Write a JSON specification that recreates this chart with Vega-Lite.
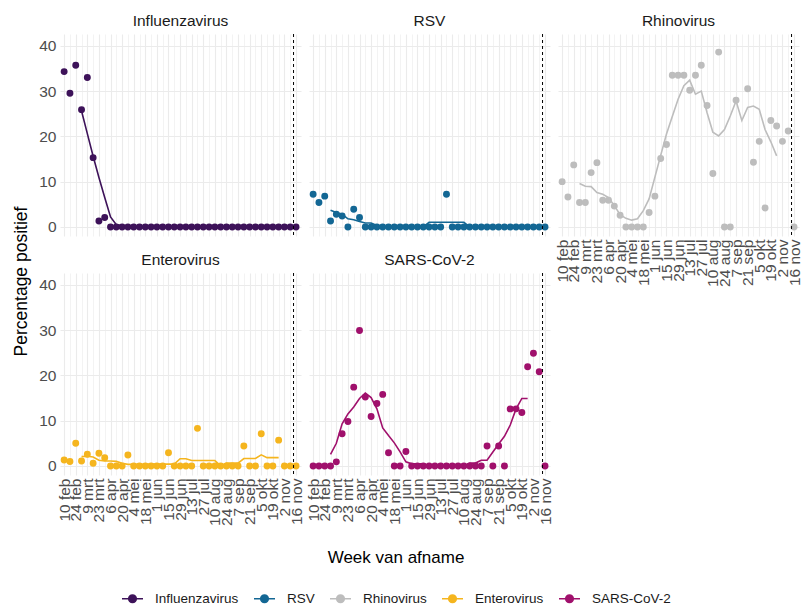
{
 "$schema": "https://vega.github.io/schema/vega-lite/v6.json",
 "background": "white",
 "padding": {"left": 12, "top": 14, "right": 0, "bottom": 2},
 "data": {
  "format": {"parse": {"week": "date:'%Y-%m-%d'"}},
  "values": [
{"virus":"Influenzavirus","week":"2020-02-10","pct":34.3,"trend":null},
{"virus":"Influenzavirus","week":"2020-02-17","pct":29.5,"trend":null},
{"virus":"Influenzavirus","week":"2020-02-24","pct":35.7,"trend":null},
{"virus":"Influenzavirus","week":"2020-03-02","pct":25.9,"trend":25.6},
{"virus":"Influenzavirus","week":"2020-03-09","pct":33.0,"trend":20.6},
{"virus":"Influenzavirus","week":"2020-03-16","pct":15.3,"trend":15.6},
{"virus":"Influenzavirus","week":"2020-03-23","pct":1.3,"trend":10.9},
{"virus":"Influenzavirus","week":"2020-03-30","pct":2.1,"trend":6.5},
{"virus":"Influenzavirus","week":"2020-04-06","pct":0,"trend":2.2},
{"virus":"Influenzavirus","week":"2020-04-13","pct":0,"trend":0.5},
{"virus":"Influenzavirus","week":"2020-04-20","pct":0,"trend":0.3},
{"virus":"Influenzavirus","week":"2020-04-27","pct":0,"trend":0},
{"virus":"Influenzavirus","week":"2020-05-04","pct":0,"trend":0},
{"virus":"Influenzavirus","week":"2020-05-11","pct":0,"trend":0},
{"virus":"Influenzavirus","week":"2020-05-18","pct":0,"trend":0},
{"virus":"Influenzavirus","week":"2020-05-25","pct":0,"trend":0},
{"virus":"Influenzavirus","week":"2020-06-01","pct":0,"trend":0},
{"virus":"Influenzavirus","week":"2020-06-08","pct":0,"trend":0},
{"virus":"Influenzavirus","week":"2020-06-15","pct":0,"trend":0},
{"virus":"Influenzavirus","week":"2020-06-22","pct":0,"trend":0},
{"virus":"Influenzavirus","week":"2020-06-29","pct":0,"trend":0},
{"virus":"Influenzavirus","week":"2020-07-06","pct":0,"trend":0},
{"virus":"Influenzavirus","week":"2020-07-13","pct":0,"trend":0},
{"virus":"Influenzavirus","week":"2020-07-20","pct":0,"trend":0},
{"virus":"Influenzavirus","week":"2020-07-27","pct":0,"trend":0},
{"virus":"Influenzavirus","week":"2020-08-03","pct":0,"trend":0},
{"virus":"Influenzavirus","week":"2020-08-10","pct":0,"trend":0},
{"virus":"Influenzavirus","week":"2020-08-17","pct":0,"trend":0},
{"virus":"Influenzavirus","week":"2020-08-24","pct":0,"trend":0},
{"virus":"Influenzavirus","week":"2020-08-31","pct":0,"trend":0},
{"virus":"Influenzavirus","week":"2020-09-07","pct":0,"trend":0},
{"virus":"Influenzavirus","week":"2020-09-14","pct":0,"trend":0},
{"virus":"Influenzavirus","week":"2020-09-21","pct":0,"trend":0},
{"virus":"Influenzavirus","week":"2020-09-28","pct":0,"trend":0},
{"virus":"Influenzavirus","week":"2020-10-05","pct":0,"trend":0},
{"virus":"Influenzavirus","week":"2020-10-12","pct":0,"trend":0},
{"virus":"Influenzavirus","week":"2020-10-19","pct":0,"trend":0},
{"virus":"Influenzavirus","week":"2020-10-26","pct":0,"trend":0},
{"virus":"Influenzavirus","week":"2020-11-02","pct":0,"trend":null},
{"virus":"Influenzavirus","week":"2020-11-09","pct":0,"trend":null},
{"virus":"Influenzavirus","week":"2020-11-16","pct":0,"trend":null},
{"virus":"RSV","week":"2020-02-10","pct":7.2,"trend":null},
{"virus":"RSV","week":"2020-02-17","pct":5.4,"trend":null},
{"virus":"RSV","week":"2020-02-24","pct":6.8,"trend":null},
{"virus":"RSV","week":"2020-03-02","pct":1.3,"trend":3.7},
{"virus":"RSV","week":"2020-03-09","pct":2.8,"trend":3.2},
{"virus":"RSV","week":"2020-03-16","pct":2.4,"trend":2.8},
{"virus":"RSV","week":"2020-03-23","pct":0,"trend":1.8},
{"virus":"RSV","week":"2020-03-30","pct":3.9,"trend":1.6},
{"virus":"RSV","week":"2020-04-06","pct":2.1,"trend":1.2},
{"virus":"RSV","week":"2020-04-13","pct":0,"trend":0.86},
{"virus":"RSV","week":"2020-04-20","pct":0,"trend":0.86},
{"virus":"RSV","week":"2020-04-27","pct":0,"trend":0.3},
{"virus":"RSV","week":"2020-05-04","pct":0,"trend":0},
{"virus":"RSV","week":"2020-05-11","pct":0,"trend":0},
{"virus":"RSV","week":"2020-05-18","pct":0,"trend":0},
{"virus":"RSV","week":"2020-05-25","pct":0,"trend":0},
{"virus":"RSV","week":"2020-06-01","pct":0,"trend":0},
{"virus":"RSV","week":"2020-06-08","pct":0,"trend":0},
{"virus":"RSV","week":"2020-06-15","pct":0,"trend":0},
{"virus":"RSV","week":"2020-06-22","pct":0,"trend":0},
{"virus":"RSV","week":"2020-06-29","pct":0,"trend":1.03},
{"virus":"RSV","week":"2020-07-06","pct":0,"trend":1.03},
{"virus":"RSV","week":"2020-07-13","pct":0,"trend":1.03},
{"virus":"RSV","week":"2020-07-20","pct":7.2,"trend":1.03},
{"virus":"RSV","week":"2020-07-27","pct":0,"trend":1.03},
{"virus":"RSV","week":"2020-08-03","pct":0,"trend":1.03},
{"virus":"RSV","week":"2020-08-10","pct":0,"trend":1.03},
{"virus":"RSV","week":"2020-08-17","pct":0,"trend":0},
{"virus":"RSV","week":"2020-08-24","pct":0,"trend":0},
{"virus":"RSV","week":"2020-08-31","pct":0,"trend":0},
{"virus":"RSV","week":"2020-09-07","pct":0,"trend":0},
{"virus":"RSV","week":"2020-09-14","pct":0,"trend":0},
{"virus":"RSV","week":"2020-09-21","pct":0,"trend":0},
{"virus":"RSV","week":"2020-09-28","pct":0,"trend":0},
{"virus":"RSV","week":"2020-10-05","pct":0,"trend":0},
{"virus":"RSV","week":"2020-10-12","pct":0,"trend":0},
{"virus":"RSV","week":"2020-10-19","pct":0,"trend":0},
{"virus":"RSV","week":"2020-10-26","pct":0,"trend":0},
{"virus":"RSV","week":"2020-11-02","pct":0,"trend":null},
{"virus":"RSV","week":"2020-11-09","pct":0,"trend":null},
{"virus":"RSV","week":"2020-11-16","pct":0,"trend":null},
{"virus":"Rhinovirus","week":"2020-02-10","pct":10.0,"trend":null},
{"virus":"Rhinovirus","week":"2020-02-17","pct":6.6,"trend":null},
{"virus":"Rhinovirus","week":"2020-02-24","pct":13.7,"trend":null},
{"virus":"Rhinovirus","week":"2020-03-02","pct":5.4,"trend":9.6},
{"virus":"Rhinovirus","week":"2020-03-09","pct":5.4,"trend":9.0},
{"virus":"Rhinovirus","week":"2020-03-16","pct":12.0,"trend":8.9},
{"virus":"Rhinovirus","week":"2020-03-23","pct":14.2,"trend":7.6},
{"virus":"Rhinovirus","week":"2020-03-30","pct":5.9,"trend":7.2},
{"virus":"Rhinovirus","week":"2020-04-06","pct":5.9,"trend":6.5},
{"virus":"Rhinovirus","week":"2020-04-13","pct":4.6,"trend":4.7},
{"virus":"Rhinovirus","week":"2020-04-20","pct":2.6,"trend":2.7},
{"virus":"Rhinovirus","week":"2020-04-27","pct":0,"trend":1.9},
{"virus":"Rhinovirus","week":"2020-05-04","pct":0,"trend":1.5},
{"virus":"Rhinovirus","week":"2020-05-11","pct":0,"trend":1.8},
{"virus":"Rhinovirus","week":"2020-05-18","pct":0,"trend":3.6},
{"virus":"Rhinovirus","week":"2020-05-25","pct":3.2,"trend":6.2},
{"virus":"Rhinovirus","week":"2020-06-01","pct":6.8,"trend":11.0},
{"virus":"Rhinovirus","week":"2020-06-08","pct":15.1,"trend":15.8},
{"virus":"Rhinovirus","week":"2020-06-15","pct":18.2,"trend":20.5},
{"virus":"Rhinovirus","week":"2020-06-22","pct":33.5,"trend":24.4},
{"virus":"Rhinovirus","week":"2020-06-29","pct":33.5,"trend":28.2},
{"virus":"Rhinovirus","week":"2020-07-06","pct":33.5,"trend":31.2},
{"virus":"Rhinovirus","week":"2020-07-13","pct":30.2,"trend":32.4},
{"virus":"Rhinovirus","week":"2020-07-20","pct":33.5,"trend":29.3},
{"virus":"Rhinovirus","week":"2020-07-27","pct":35.7,"trend":30.0},
{"virus":"Rhinovirus","week":"2020-08-03","pct":26.8,"trend":25.2},
{"virus":"Rhinovirus","week":"2020-08-10","pct":11.8,"trend":20.9},
{"virus":"Rhinovirus","week":"2020-08-17","pct":38.6,"trend":20.1},
{"virus":"Rhinovirus","week":"2020-08-24","pct":0,"trend":21.5},
{"virus":"Rhinovirus","week":"2020-08-31","pct":0,"trend":24.5},
{"virus":"Rhinovirus","week":"2020-09-07","pct":28.0,"trend":27.8},
{"virus":"Rhinovirus","week":"2020-09-14","pct":null,"trend":23.5},
{"virus":"Rhinovirus","week":"2020-09-21","pct":30.5,"trend":26.4},
{"virus":"Rhinovirus","week":"2020-09-28","pct":14.3,"trend":26.7},
{"virus":"Rhinovirus","week":"2020-10-05","pct":18.9,"trend":26.0},
{"virus":"Rhinovirus","week":"2020-10-12","pct":4.2,"trend":21.5},
{"virus":"Rhinovirus","week":"2020-10-19","pct":23.5,"trend":18.8},
{"virus":"Rhinovirus","week":"2020-10-26","pct":22.3,"trend":15.7},
{"virus":"Rhinovirus","week":"2020-11-02","pct":18.9,"trend":null},
{"virus":"Rhinovirus","week":"2020-11-09","pct":21.2,"trend":null},
{"virus":"Rhinovirus","week":"2020-11-16","pct":0,"trend":null},
{"virus":"Enterovirus","week":"2020-02-10","pct":1.3,"trend":null},
{"virus":"Enterovirus","week":"2020-02-17","pct":1.0,"trend":null},
{"virus":"Enterovirus","week":"2020-02-24","pct":5.0,"trend":null},
{"virus":"Enterovirus","week":"2020-03-02","pct":1.1,"trend":2.06},
{"virus":"Enterovirus","week":"2020-03-09","pct":2.6,"trend":2.13},
{"virus":"Enterovirus","week":"2020-03-16","pct":0.6,"trend":1.99},
{"virus":"Enterovirus","week":"2020-03-23","pct":2.8,"trend":1.27},
{"virus":"Enterovirus","week":"2020-03-30","pct":1.8,"trend":1.11},
{"virus":"Enterovirus","week":"2020-04-06","pct":0,"trend":1.09},
{"virus":"Enterovirus","week":"2020-04-13","pct":0,"trend":1.0},
{"virus":"Enterovirus","week":"2020-04-20","pct":0,"trend":0.6},
{"virus":"Enterovirus","week":"2020-04-27","pct":2.4,"trend":0.34},
{"virus":"Enterovirus","week":"2020-05-04","pct":0,"trend":0.34},
{"virus":"Enterovirus","week":"2020-05-11","pct":0,"trend":0.34},
{"virus":"Enterovirus","week":"2020-05-18","pct":0,"trend":0.34},
{"virus":"Enterovirus","week":"2020-05-25","pct":0,"trend":0.41},
{"virus":"Enterovirus","week":"2020-06-01","pct":0,"trend":0.41},
{"virus":"Enterovirus","week":"2020-06-08","pct":0,"trend":0.41},
{"virus":"Enterovirus","week":"2020-06-15","pct":2.9,"trend":0.41},
{"virus":"Enterovirus","week":"2020-06-22","pct":0,"trend":0.41},
{"virus":"Enterovirus","week":"2020-06-29","pct":0,"trend":1.6},
{"virus":"Enterovirus","week":"2020-07-06","pct":0,"trend":1.6},
{"virus":"Enterovirus","week":"2020-07-13","pct":0,"trend":1.19},
{"virus":"Enterovirus","week":"2020-07-20","pct":8.3,"trend":1.19},
{"virus":"Enterovirus","week":"2020-07-27","pct":0,"trend":1.19},
{"virus":"Enterovirus","week":"2020-08-03","pct":0,"trend":1.19},
{"virus":"Enterovirus","week":"2020-08-10","pct":0,"trend":1.19},
{"virus":"Enterovirus","week":"2020-08-17","pct":0,"trend":0},
{"virus":"Enterovirus","week":"2020-08-24","pct":0,"trend":0.63},
{"virus":"Enterovirus","week":"2020-08-31","pct":0,"trend":0.63},
{"virus":"Enterovirus","week":"2020-09-07","pct":0,"trend":0.63},
{"virus":"Enterovirus","week":"2020-09-14","pct":4.4,"trend":1.64},
{"virus":"Enterovirus","week":"2020-09-21","pct":0,"trend":1.64},
{"virus":"Enterovirus","week":"2020-09-28","pct":0,"trend":1.64},
{"virus":"Enterovirus","week":"2020-10-05","pct":7.1,"trend":2.46},
{"virus":"Enterovirus","week":"2020-10-12","pct":0,"trend":1.83},
{"virus":"Enterovirus","week":"2020-10-19","pct":0,"trend":1.83},
{"virus":"Enterovirus","week":"2020-10-26","pct":5.7,"trend":1.83},
{"virus":"Enterovirus","week":"2020-11-02","pct":0,"trend":null},
{"virus":"Enterovirus","week":"2020-11-09","pct":0,"trend":null},
{"virus":"Enterovirus","week":"2020-11-16","pct":0,"trend":null},
{"virus":"SARS-CoV-2","week":"2020-02-10","pct":0,"trend":null},
{"virus":"SARS-CoV-2","week":"2020-02-17","pct":0,"trend":null},
{"virus":"SARS-CoV-2","week":"2020-02-24","pct":0,"trend":null},
{"virus":"SARS-CoV-2","week":"2020-03-02","pct":0,"trend":2.54},
{"virus":"SARS-CoV-2","week":"2020-03-09","pct":0.9,"trend":5.0},
{"virus":"SARS-CoV-2","week":"2020-03-16","pct":7.1,"trend":9.3},
{"virus":"SARS-CoV-2","week":"2020-03-23","pct":9.8,"trend":11.5},
{"virus":"SARS-CoV-2","week":"2020-03-30","pct":17.4,"trend":13.0},
{"virus":"SARS-CoV-2","week":"2020-04-06","pct":29.9,"trend":14.9},
{"virus":"SARS-CoV-2","week":"2020-04-13","pct":15.2,"trend":16.1},
{"virus":"SARS-CoV-2","week":"2020-04-20","pct":10.9,"trend":15.1},
{"virus":"SARS-CoV-2","week":"2020-04-27","pct":13.8,"trend":12.6},
{"virus":"SARS-CoV-2","week":"2020-05-04","pct":15.8,"trend":8.4},
{"virus":"SARS-CoV-2","week":"2020-05-11","pct":2.9,"trend":6.7},
{"virus":"SARS-CoV-2","week":"2020-05-18","pct":0,"trend":5.1},
{"virus":"SARS-CoV-2","week":"2020-05-25","pct":0,"trend":3.1},
{"virus":"SARS-CoV-2","week":"2020-06-01","pct":3.2,"trend":0.9},
{"virus":"SARS-CoV-2","week":"2020-06-08","pct":0,"trend":0.46},
{"virus":"SARS-CoV-2","week":"2020-06-15","pct":0,"trend":0.46},
{"virus":"SARS-CoV-2","week":"2020-06-22","pct":0,"trend":0.46},
{"virus":"SARS-CoV-2","week":"2020-06-29","pct":0,"trend":0},
{"virus":"SARS-CoV-2","week":"2020-07-06","pct":0,"trend":0},
{"virus":"SARS-CoV-2","week":"2020-07-13","pct":0,"trend":0},
{"virus":"SARS-CoV-2","week":"2020-07-20","pct":0,"trend":0},
{"virus":"SARS-CoV-2","week":"2020-07-27","pct":0,"trend":0},
{"virus":"SARS-CoV-2","week":"2020-08-03","pct":0,"trend":0},
{"virus":"SARS-CoV-2","week":"2020-08-10","pct":0,"trend":0},
{"virus":"SARS-CoV-2","week":"2020-08-17","pct":0,"trend":0.63},
{"virus":"SARS-CoV-2","week":"2020-08-24","pct":0,"trend":0.63},
{"virus":"SARS-CoV-2","week":"2020-08-31","pct":0,"trend":1.26},
{"virus":"SARS-CoV-2","week":"2020-09-07","pct":4.4,"trend":1.26},
{"virus":"SARS-CoV-2","week":"2020-09-14","pct":0,"trend":3.06},
{"virus":"SARS-CoV-2","week":"2020-09-21","pct":4.4,"trend":4.86},
{"virus":"SARS-CoV-2","week":"2020-09-28","pct":0,"trend":6.54},
{"virus":"SARS-CoV-2","week":"2020-10-05","pct":12.6,"trend":9.04},
{"virus":"SARS-CoV-2","week":"2020-10-12","pct":12.6,"trend":12.6},
{"virus":"SARS-CoV-2","week":"2020-10-19","pct":11.8,"trend":14.9},
{"virus":"SARS-CoV-2","week":"2020-10-26","pct":21.9,"trend":14.9},
{"virus":"SARS-CoV-2","week":"2020-11-02","pct":24.9,"trend":null},
{"virus":"SARS-CoV-2","week":"2020-11-09","pct":20.8,"trend":null},
{"virus":"SARS-CoV-2","week":"2020-11-16","pct":0,"trend":null}
  ]
 },
 "columns": 3,
 "spacing": {"row": 37, "column": 8},
 "bounds": "flush",
 "resolve": {"scale": {"x": "independent", "y": "independent", "color": "shared"}, "axis": {"x": "independent", "y": "independent"}},
 "concat": [
  {
   "title": "Influenzavirus",
   "transform": [{"filter": {"field": "virus", "equal": "Influenzavirus"}}],
   "width": 241, "height": 202,
   "encoding": {"x": {"field": "week", "type": "temporal", "scale": {"domain": [{"year": 2020, "month": 2, "date": 5}, {"year": 2020, "month": 11, "date": 22}]},
     "axis": {"title": null, "labels": false, "labelExpr": "round((time(datum.value) - time(datetime(2020,1,10))) / 604800000) % 2 == 0 ? date(datum.value) + ' ' + ['jan','feb','mrt','apr','mei','jun','jul','aug','sep','okt','nov','dec'][month(datum.value)] : ''",
      "gridWidth": {"condition": {"test": "round((time(datum.value) - time(datetime(2020,1,10))) / 604800000) % 2 == 0", "value": 1.1}, "value": 0.6},
      "values": [{"year":2020,"month":2,"date":10},{"year":2020,"month":2,"date":17},{"year":2020,"month":2,"date":24},{"year":2020,"month":3,"date":2},{"year":2020,"month":3,"date":9},{"year":2020,"month":3,"date":16},{"year":2020,"month":3,"date":23},{"year":2020,"month":3,"date":30},{"year":2020,"month":4,"date":6},{"year":2020,"month":4,"date":13},{"year":2020,"month":4,"date":20},{"year":2020,"month":4,"date":27},{"year":2020,"month":5,"date":4},{"year":2020,"month":5,"date":11},{"year":2020,"month":5,"date":18},{"year":2020,"month":5,"date":25},{"year":2020,"month":6,"date":1},{"year":2020,"month":6,"date":8},{"year":2020,"month":6,"date":15},{"year":2020,"month":6,"date":22},{"year":2020,"month":6,"date":29},{"year":2020,"month":7,"date":6},{"year":2020,"month":7,"date":13},{"year":2020,"month":7,"date":20},{"year":2020,"month":7,"date":27},{"year":2020,"month":8,"date":3},{"year":2020,"month":8,"date":10},{"year":2020,"month":8,"date":17},{"year":2020,"month":8,"date":24},{"year":2020,"month":8,"date":31},{"year":2020,"month":9,"date":7},{"year":2020,"month":9,"date":14},{"year":2020,"month":9,"date":21},{"year":2020,"month":9,"date":28},{"year":2020,"month":10,"date":5},{"year":2020,"month":10,"date":12},{"year":2020,"month":10,"date":19},{"year":2020,"month":10,"date":26},{"year":2020,"month":11,"date":2},{"year":2020,"month":11,"date":9},{"year":2020,"month":11,"date":16}]}}},
   "layer": [
    {"mark": {"type": "line", "strokeWidth": 1.6},
     "encoding": {
      "y": {"field": "trend", "type": "quantitative", "scale": {"domain": [-2, 42.6], "nice": false, "zero": false},
       "axis": {"title": "Percentage positief", "titleY": 247, "titleFontSize": 17.5, "titleFontWeight": "normal", "titleColor": "black", "titlePadding": 8, "labels": true, "values": [0, 5, 10, 15, 20, 25, 30, 35, 40], "labelExpr": "datum.value % 10 == 0 ? datum.label : ''", "gridWidth": {"condition": {"test": "datum.value % 10 == 0", "value": 1.1}, "value": 0.6}}},
      "color": {"field": "virus", "type": "nominal",
       "scale": {"domain": ["Influenzavirus", "RSV", "Rhinovirus", "Enterovirus", "SARS-CoV-2"], "range": ["#3d1259", "#136794", "#bdbdbd", "#f5b51e", "#a0106c"]},
       "legend": {"orient": "none", "legendX": 61, "legendY": 516, "direction": "horizontal", "title": "Week van afname", "titleOrient": "top", "titleAnchor": "middle", "titleFontSize": 17, "titleFontWeight": "normal", "titleColor": "black", "titleFont": "Liberation Sans", "titlePadding": 20, "labelFontSize": 13.5, "labelColor": "#1a1a1a", "labelFont": "Liberation Sans", "symbolType": "M-1,0H1M-0.36,0A0.36,0.36,0,1,1,0.36,0A0.36,0.36,0,1,1,-0.36,0Z", "symbolSize": 441, "symbolStrokeWidth": 1.6, "columnPadding": 11, "labelOffset": 11}}}},
    {"mark": {"type": "point", "filled": true, "size": 48, "opacity": 1},
     "encoding": {"y": {"field": "pct", "type": "quantitative"}, "color": {"field": "virus", "type": "nominal", "scale": {"domain": ["Influenzavirus", "RSV", "Rhinovirus", "Enterovirus", "SARS-CoV-2"], "range": ["#3d1259", "#136794", "#bdbdbd", "#f5b51e", "#a0106c"]}}}},
    {"transform": [{"filter": {"field": "week", "timeUnit": "yearmonthdate", "equal": {"year": 2020, "month": 2, "date": 10}}}],
     "mark": {"type": "rule", "strokeDash": [3, 3], "color": "black", "strokeWidth": 1},
     "encoding": {"x": {"datum": {"year": 2020, "month": 11, "date": 13}, "type": "temporal"}}}
   ]
  },
  {
   "title": "RSV",
   "transform": [{"filter": {"field": "virus", "equal": "RSV"}}],
   "width": 241, "height": 202,
   "encoding": {"x": {"field": "week", "type": "temporal", "scale": {"domain": [{"year": 2020, "month": 2, "date": 5}, {"year": 2020, "month": 11, "date": 22}]},
     "axis": {"title": null, "labels": false, "labelExpr": "round((time(datum.value) - time(datetime(2020,1,10))) / 604800000) % 2 == 0 ? date(datum.value) + ' ' + ['jan','feb','mrt','apr','mei','jun','jul','aug','sep','okt','nov','dec'][month(datum.value)] : ''",
      "gridWidth": {"condition": {"test": "round((time(datum.value) - time(datetime(2020,1,10))) / 604800000) % 2 == 0", "value": 1.1}, "value": 0.6},
      "values": [{"year":2020,"month":2,"date":10},{"year":2020,"month":2,"date":17},{"year":2020,"month":2,"date":24},{"year":2020,"month":3,"date":2},{"year":2020,"month":3,"date":9},{"year":2020,"month":3,"date":16},{"year":2020,"month":3,"date":23},{"year":2020,"month":3,"date":30},{"year":2020,"month":4,"date":6},{"year":2020,"month":4,"date":13},{"year":2020,"month":4,"date":20},{"year":2020,"month":4,"date":27},{"year":2020,"month":5,"date":4},{"year":2020,"month":5,"date":11},{"year":2020,"month":5,"date":18},{"year":2020,"month":5,"date":25},{"year":2020,"month":6,"date":1},{"year":2020,"month":6,"date":8},{"year":2020,"month":6,"date":15},{"year":2020,"month":6,"date":22},{"year":2020,"month":6,"date":29},{"year":2020,"month":7,"date":6},{"year":2020,"month":7,"date":13},{"year":2020,"month":7,"date":20},{"year":2020,"month":7,"date":27},{"year":2020,"month":8,"date":3},{"year":2020,"month":8,"date":10},{"year":2020,"month":8,"date":17},{"year":2020,"month":8,"date":24},{"year":2020,"month":8,"date":31},{"year":2020,"month":9,"date":7},{"year":2020,"month":9,"date":14},{"year":2020,"month":9,"date":21},{"year":2020,"month":9,"date":28},{"year":2020,"month":10,"date":5},{"year":2020,"month":10,"date":12},{"year":2020,"month":10,"date":19},{"year":2020,"month":10,"date":26},{"year":2020,"month":11,"date":2},{"year":2020,"month":11,"date":9},{"year":2020,"month":11,"date":16}]}}},
   "layer": [
    {"mark": {"type": "line", "strokeWidth": 1.6},
     "encoding": {
      "y": {"field": "trend", "type": "quantitative", "scale": {"domain": [-2, 42.6], "nice": false, "zero": false},
       "axis": {"title": null, "labels": false, "values": [0, 5, 10, 15, 20, 25, 30, 35, 40], "gridWidth": {"condition": {"test": "datum.value % 10 == 0", "value": 1.1}, "value": 0.6}}},
      "color": {"field": "virus", "type": "nominal", "scale": {"domain": ["Influenzavirus", "RSV", "Rhinovirus", "Enterovirus", "SARS-CoV-2"], "range": ["#3d1259", "#136794", "#bdbdbd", "#f5b51e", "#a0106c"]}}}},
    {"mark": {"type": "point", "filled": true, "size": 48, "opacity": 1},
     "encoding": {"y": {"field": "pct", "type": "quantitative"}, "color": {"field": "virus", "type": "nominal", "scale": {"domain": ["Influenzavirus", "RSV", "Rhinovirus", "Enterovirus", "SARS-CoV-2"], "range": ["#3d1259", "#136794", "#bdbdbd", "#f5b51e", "#a0106c"]}}}},
    {"transform": [{"filter": {"field": "week", "timeUnit": "yearmonthdate", "equal": {"year": 2020, "month": 2, "date": 10}}}],
     "mark": {"type": "rule", "strokeDash": [3, 3], "color": "black", "strokeWidth": 1},
     "encoding": {"x": {"datum": {"year": 2020, "month": 11, "date": 13}, "type": "temporal"}}}
   ]
  },
  {
   "title": "Rhinovirus",
   "transform": [{"filter": {"field": "virus", "equal": "Rhinovirus"}}],
   "width": 241, "height": 202,
   "encoding": {"x": {"field": "week", "type": "temporal", "scale": {"domain": [{"year": 2020, "month": 2, "date": 5}, {"year": 2020, "month": 11, "date": 22}]},
     "axis": {"title": null, "labels": true, "labelExpr": "round((time(datum.value) - time(datetime(2020,1,10))) / 604800000) % 2 == 0 ? date(datum.value) + ' ' + ['jan','feb','mrt','apr','mei','jun','jul','aug','sep','okt','nov','dec'][month(datum.value)] : ''",
      "gridWidth": {"condition": {"test": "round((time(datum.value) - time(datetime(2020,1,10))) / 604800000) % 2 == 0", "value": 1.1}, "value": 0.6},
      "values": [{"year":2020,"month":2,"date":10},{"year":2020,"month":2,"date":17},{"year":2020,"month":2,"date":24},{"year":2020,"month":3,"date":2},{"year":2020,"month":3,"date":9},{"year":2020,"month":3,"date":16},{"year":2020,"month":3,"date":23},{"year":2020,"month":3,"date":30},{"year":2020,"month":4,"date":6},{"year":2020,"month":4,"date":13},{"year":2020,"month":4,"date":20},{"year":2020,"month":4,"date":27},{"year":2020,"month":5,"date":4},{"year":2020,"month":5,"date":11},{"year":2020,"month":5,"date":18},{"year":2020,"month":5,"date":25},{"year":2020,"month":6,"date":1},{"year":2020,"month":6,"date":8},{"year":2020,"month":6,"date":15},{"year":2020,"month":6,"date":22},{"year":2020,"month":6,"date":29},{"year":2020,"month":7,"date":6},{"year":2020,"month":7,"date":13},{"year":2020,"month":7,"date":20},{"year":2020,"month":7,"date":27},{"year":2020,"month":8,"date":3},{"year":2020,"month":8,"date":10},{"year":2020,"month":8,"date":17},{"year":2020,"month":8,"date":24},{"year":2020,"month":8,"date":31},{"year":2020,"month":9,"date":7},{"year":2020,"month":9,"date":14},{"year":2020,"month":9,"date":21},{"year":2020,"month":9,"date":28},{"year":2020,"month":10,"date":5},{"year":2020,"month":10,"date":12},{"year":2020,"month":10,"date":19},{"year":2020,"month":10,"date":26},{"year":2020,"month":11,"date":2},{"year":2020,"month":11,"date":9},{"year":2020,"month":11,"date":16}]}}},
   "layer": [
    {"mark": {"type": "line", "strokeWidth": 1.6},
     "encoding": {
      "y": {"field": "trend", "type": "quantitative", "scale": {"domain": [-2, 42.6], "nice": false, "zero": false},
       "axis": {"title": null, "labels": false, "values": [0, 5, 10, 15, 20, 25, 30, 35, 40], "gridWidth": {"condition": {"test": "datum.value % 10 == 0", "value": 1.1}, "value": 0.6}}},
      "color": {"field": "virus", "type": "nominal", "scale": {"domain": ["Influenzavirus", "RSV", "Rhinovirus", "Enterovirus", "SARS-CoV-2"], "range": ["#3d1259", "#136794", "#bdbdbd", "#f5b51e", "#a0106c"]}}}},
    {"mark": {"type": "point", "filled": true, "size": 48, "opacity": 1},
     "encoding": {"y": {"field": "pct", "type": "quantitative"}, "color": {"field": "virus", "type": "nominal", "scale": {"domain": ["Influenzavirus", "RSV", "Rhinovirus", "Enterovirus", "SARS-CoV-2"], "range": ["#3d1259", "#136794", "#bdbdbd", "#f5b51e", "#a0106c"]}}}},
    {"transform": [{"filter": {"field": "week", "timeUnit": "yearmonthdate", "equal": {"year": 2020, "month": 2, "date": 10}}}],
     "mark": {"type": "rule", "strokeDash": [3, 3], "color": "black", "strokeWidth": 1},
     "encoding": {"x": {"datum": {"year": 2020, "month": 11, "date": 13}, "type": "temporal"}}}
   ]
  },
  {
   "title": "Enterovirus",
   "transform": [{"filter": {"field": "virus", "equal": "Enterovirus"}}],
   "width": 241, "height": 202,
   "encoding": {"x": {"field": "week", "type": "temporal", "scale": {"domain": [{"year": 2020, "month": 2, "date": 5}, {"year": 2020, "month": 11, "date": 22}]},
     "axis": {"title": null, "labels": true, "labelExpr": "round((time(datum.value) - time(datetime(2020,1,10))) / 604800000) % 2 == 0 ? date(datum.value) + ' ' + ['jan','feb','mrt','apr','mei','jun','jul','aug','sep','okt','nov','dec'][month(datum.value)] : ''",
      "gridWidth": {"condition": {"test": "round((time(datum.value) - time(datetime(2020,1,10))) / 604800000) % 2 == 0", "value": 1.1}, "value": 0.6},
      "values": [{"year":2020,"month":2,"date":10},{"year":2020,"month":2,"date":17},{"year":2020,"month":2,"date":24},{"year":2020,"month":3,"date":2},{"year":2020,"month":3,"date":9},{"year":2020,"month":3,"date":16},{"year":2020,"month":3,"date":23},{"year":2020,"month":3,"date":30},{"year":2020,"month":4,"date":6},{"year":2020,"month":4,"date":13},{"year":2020,"month":4,"date":20},{"year":2020,"month":4,"date":27},{"year":2020,"month":5,"date":4},{"year":2020,"month":5,"date":11},{"year":2020,"month":5,"date":18},{"year":2020,"month":5,"date":25},{"year":2020,"month":6,"date":1},{"year":2020,"month":6,"date":8},{"year":2020,"month":6,"date":15},{"year":2020,"month":6,"date":22},{"year":2020,"month":6,"date":29},{"year":2020,"month":7,"date":6},{"year":2020,"month":7,"date":13},{"year":2020,"month":7,"date":20},{"year":2020,"month":7,"date":27},{"year":2020,"month":8,"date":3},{"year":2020,"month":8,"date":10},{"year":2020,"month":8,"date":17},{"year":2020,"month":8,"date":24},{"year":2020,"month":8,"date":31},{"year":2020,"month":9,"date":7},{"year":2020,"month":9,"date":14},{"year":2020,"month":9,"date":21},{"year":2020,"month":9,"date":28},{"year":2020,"month":10,"date":5},{"year":2020,"month":10,"date":12},{"year":2020,"month":10,"date":19},{"year":2020,"month":10,"date":26},{"year":2020,"month":11,"date":2},{"year":2020,"month":11,"date":9},{"year":2020,"month":11,"date":16}]}}},
   "layer": [
    {"mark": {"type": "line", "strokeWidth": 1.6},
     "encoding": {
      "y": {"field": "trend", "type": "quantitative", "scale": {"domain": [-2, 42.6], "nice": false, "zero": false},
       "axis": {"title": null, "labels": true, "values": [0, 5, 10, 15, 20, 25, 30, 35, 40], "labelExpr": "datum.value % 10 == 0 ? datum.label : ''", "gridWidth": {"condition": {"test": "datum.value % 10 == 0", "value": 1.1}, "value": 0.6}}},
      "color": {"field": "virus", "type": "nominal", "scale": {"domain": ["Influenzavirus", "RSV", "Rhinovirus", "Enterovirus", "SARS-CoV-2"], "range": ["#3d1259", "#136794", "#bdbdbd", "#f5b51e", "#a0106c"]}}}},
    {"mark": {"type": "point", "filled": true, "size": 48, "opacity": 1},
     "encoding": {"y": {"field": "pct", "type": "quantitative"}, "color": {"field": "virus", "type": "nominal", "scale": {"domain": ["Influenzavirus", "RSV", "Rhinovirus", "Enterovirus", "SARS-CoV-2"], "range": ["#3d1259", "#136794", "#bdbdbd", "#f5b51e", "#a0106c"]}}}},
    {"transform": [{"filter": {"field": "week", "timeUnit": "yearmonthdate", "equal": {"year": 2020, "month": 2, "date": 10}}}],
     "mark": {"type": "rule", "strokeDash": [3, 3], "color": "black", "strokeWidth": 1},
     "encoding": {"x": {"datum": {"year": 2020, "month": 11, "date": 13}, "type": "temporal"}}}
   ]
  },
  {
   "title": "SARS-CoV-2",
   "transform": [{"filter": {"field": "virus", "equal": "SARS-CoV-2"}}],
   "width": 241, "height": 202,
   "encoding": {"x": {"field": "week", "type": "temporal", "scale": {"domain": [{"year": 2020, "month": 2, "date": 5}, {"year": 2020, "month": 11, "date": 22}]},
     "axis": {"title": null, "labels": true, "labelExpr": "round((time(datum.value) - time(datetime(2020,1,10))) / 604800000) % 2 == 0 ? date(datum.value) + ' ' + ['jan','feb','mrt','apr','mei','jun','jul','aug','sep','okt','nov','dec'][month(datum.value)] : ''",
      "gridWidth": {"condition": {"test": "round((time(datum.value) - time(datetime(2020,1,10))) / 604800000) % 2 == 0", "value": 1.1}, "value": 0.6},
      "values": [{"year":2020,"month":2,"date":10},{"year":2020,"month":2,"date":17},{"year":2020,"month":2,"date":24},{"year":2020,"month":3,"date":2},{"year":2020,"month":3,"date":9},{"year":2020,"month":3,"date":16},{"year":2020,"month":3,"date":23},{"year":2020,"month":3,"date":30},{"year":2020,"month":4,"date":6},{"year":2020,"month":4,"date":13},{"year":2020,"month":4,"date":20},{"year":2020,"month":4,"date":27},{"year":2020,"month":5,"date":4},{"year":2020,"month":5,"date":11},{"year":2020,"month":5,"date":18},{"year":2020,"month":5,"date":25},{"year":2020,"month":6,"date":1},{"year":2020,"month":6,"date":8},{"year":2020,"month":6,"date":15},{"year":2020,"month":6,"date":22},{"year":2020,"month":6,"date":29},{"year":2020,"month":7,"date":6},{"year":2020,"month":7,"date":13},{"year":2020,"month":7,"date":20},{"year":2020,"month":7,"date":27},{"year":2020,"month":8,"date":3},{"year":2020,"month":8,"date":10},{"year":2020,"month":8,"date":17},{"year":2020,"month":8,"date":24},{"year":2020,"month":8,"date":31},{"year":2020,"month":9,"date":7},{"year":2020,"month":9,"date":14},{"year":2020,"month":9,"date":21},{"year":2020,"month":9,"date":28},{"year":2020,"month":10,"date":5},{"year":2020,"month":10,"date":12},{"year":2020,"month":10,"date":19},{"year":2020,"month":10,"date":26},{"year":2020,"month":11,"date":2},{"year":2020,"month":11,"date":9},{"year":2020,"month":11,"date":16}]}}},
   "layer": [
    {"mark": {"type": "line", "strokeWidth": 1.6},
     "encoding": {
      "y": {"field": "trend", "type": "quantitative", "scale": {"domain": [-2, 42.6], "nice": false, "zero": false},
       "axis": {"title": null, "labels": false, "values": [0, 5, 10, 15, 20, 25, 30, 35, 40], "gridWidth": {"condition": {"test": "datum.value % 10 == 0", "value": 1.1}, "value": 0.6}}},
      "color": {"field": "virus", "type": "nominal", "scale": {"domain": ["Influenzavirus", "RSV", "Rhinovirus", "Enterovirus", "SARS-CoV-2"], "range": ["#3d1259", "#136794", "#bdbdbd", "#f5b51e", "#a0106c"]}}}},
    {"mark": {"type": "point", "filled": true, "size": 48, "opacity": 1},
     "encoding": {"y": {"field": "pct", "type": "quantitative"}, "color": {"field": "virus", "type": "nominal", "scale": {"domain": ["Influenzavirus", "RSV", "Rhinovirus", "Enterovirus", "SARS-CoV-2"], "range": ["#3d1259", "#136794", "#bdbdbd", "#f5b51e", "#a0106c"]}}}},
    {"transform": [{"filter": {"field": "week", "timeUnit": "yearmonthdate", "equal": {"year": 2020, "month": 2, "date": 10}}}],
     "mark": {"type": "rule", "strokeDash": [3, 3], "color": "black", "strokeWidth": 1},
     "encoding": {"x": {"datum": {"year": 2020, "month": 11, "date": 13}, "type": "temporal"}}}
   ]
  }
 ],
 "config": {
  "font": "Liberation Sans",
  "view": {"stroke": null},
  "title": {"fontSize": 15.5, "fontWeight": "normal", "color": "#1a1a1a", "font": "Liberation Sans", "offset": 4, "anchor": "middle", "frame": "group"},
  "axis": {"labelFont": "Liberation Sans", "labelFontSize": 15.5, "labelColor": "#4d4d4d", "ticks": false, "domain": false, "grid": true, "gridColor": "#ebebeb"},
  "axisX": {"labelAngle": 270, "labelOverlap": false, "labelBound": false, "labelFlush": false, "labelPadding": 3},
  "axisY": {"labelPadding": 4}
 }
}
